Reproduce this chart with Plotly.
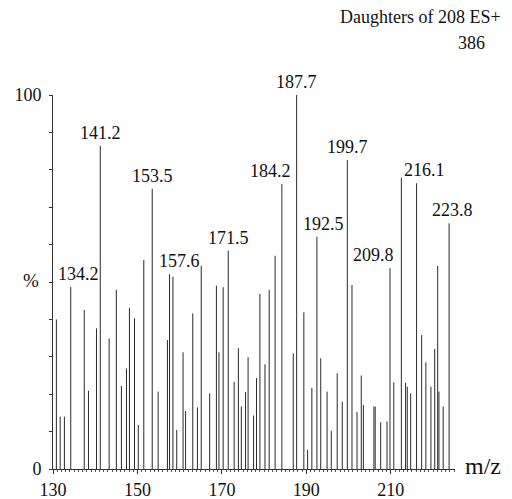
import plotly.graph_objects as go

# m/z positions and relative intensities (%)
mz = [130.8, 131.7, 132.7, 134.2, 137.4, 138.4, 140.3, 141.2, 143.3, 145.0,
      146.2, 147.4, 148.1, 149.3, 150.2, 151.5, 153.5, 154.9, 157.1, 157.6,
      158.4, 159.3, 160.8, 161.4, 163.1, 164.2, 165.1, 167.1, 168.7, 169.3,
      170.3, 171.5, 172.9, 173.9, 174.6, 175.6, 176.2, 177.5, 178.2, 179.0,
      180.2, 181.2, 182.6, 184.2, 186.9, 187.7, 189.4, 190.3, 191.3, 192.5,
      193.4, 194.9, 195.9, 197.3, 198.5, 199.7, 200.8, 202.0, 203.0, 203.5,
      206.0, 206.3, 207.6, 209.1, 209.8, 210.7, 212.5, 213.5, 213.9, 214.7,
      216.1, 217.3, 218.3, 219.5, 220.4, 221.1, 221.4, 222.4, 223.8]
intensity = [40.0, 14.0, 14.0, 48.7, 42.5, 20.9, 37.6, 86.4, 34.9, 47.9,
             22.2, 26.9, 43.1, 40.3, 11.8, 55.9, 74.9, 20.7, 34.5, 52.1,
             51.4, 10.4, 31.2, 15.5, 41.6, 16.5, 54.3, 20.2, 49.0, 31.2,
             48.6, 58.4, 23.3, 32.3, 16.7, 20.6, 29.9, 14.3, 24.3, 46.8,
             28.0, 47.9, 57.0, 76.2, 30.9, 100.0, 41.9, 5.1, 21.7, 62.1,
             29.6, 20.7, 10.2, 25.6, 18.0, 82.6, 49.2, 15.3, 25.0, 17.1,
             16.7, 16.7, 12.5, 12.7, 53.7, 23.2, 77.9, 23.1, 22.0, 20.2,
             76.4, 35.8, 28.5, 22.0, 32.1, 54.3, 20.7, 16.7, 65.7]

peak_labels = [134.2, 141.2, 153.5, 157.6, 171.5, 184.2, 187.7, 192.5,
               199.7, 209.8, 216.1, 223.8]

x_tick_vals = [130, 150, 170, 190, 210]
y_tick_vals = [0, 100]

title_lines = ["Daughters of 208 ES+", "386"]

# horizontal shift (px) of each peak label relative to its stick
label_shift = {134.2: 8, 157.6: 10, 184.2: -11, 192.5: 7, 209.8: -16,
               216.1: 8, 223.8: 3}

xs, ys = [], []
for m, h in zip(mz, intensity):
    xs += [m, m, None]
    ys += [0, h, None]

FONT = "Liberation Serif, Times New Roman, serif"
FS = 18
fig = go.Figure()
fig.add_trace(go.Scatter(x=xs, y=ys, mode="lines",
                         line=dict(color="#2a2a2a", width=1),
                         hoverinfo="skip", showlegend=False))

lookup = dict(zip(mz, intensity))
for lab in peak_labels:
    fig.add_annotation(x=lab, y=lookup[lab], xref="x", yref="y",
                       text=f"{lab:.1f}", showarrow=False,
                       xanchor="center", yanchor="bottom",
                       xshift=label_shift.get(lab, 0), yshift=1,
                       font=dict(family=FONT, size=FS, color="#111"))

# plot area: left 53, right 455, top 95, bottom 469 (page px)
fig.add_annotation(xref="paper", yref="paper", x=1, y=1, xanchor="right",
                   yanchor="middle", xshift=48, yshift=95 - 17,
                   text=title_lines[0], showarrow=False,
                   font=dict(family=FONT, size=FS, color="#111"))
fig.add_annotation(xref="paper", yref="paper", x=1, y=1, xanchor="right",
                   yanchor="middle", xshift=32, yshift=95 - 43,
                   text=title_lines[1], showarrow=False,
                   font=dict(family=FONT, size=FS, color="#111"))
fig.add_annotation(xref="paper", yref="paper", x=0, y=0.5, xanchor="center",
                   yanchor="middle", xshift=-22, yshift=(282 - 280),
                   text="%", showarrow=False,
                   font=dict(family=FONT, size=19, color="#111"))
fig.add_annotation(xref="paper", yref="paper", x=1, y=0, xanchor="left",
                   yanchor="middle", xshift=8, yshift=3,
                   text="m/z", showarrow=False,
                   font=dict(family=FONT, size=24, color="#111"))

fig.update_layout(
    width=512, height=499,
    margin=dict(l=53, r=57, t=95, b=30),
    paper_bgcolor="white", plot_bgcolor="white",
    xaxis=dict(range=[130, 225.2], showgrid=False, zeroline=False,
               automargin=False,
               showline=True, linecolor="#333", linewidth=1,
               tickvals=x_tick_vals, ticks="outside", ticklen=4,
               tickcolor="#333", ticklabelstandoff=0,
               tickfont=dict(family=FONT, size=FS, color="#111"),
               minor=dict(dtick=1, tick0=130, ticks="outside", ticklen=2,
                          tickcolor="#555")),
    yaxis=dict(range=[0, 100], showgrid=False, zeroline=False,
               automargin=False,
               showline=True, linecolor="#333", linewidth=1,
               tickvals=y_tick_vals, ticks="outside", ticklen=3,
               tickcolor="#333", ticklabelstandoff=4,
               tickfont=dict(family=FONT, size=FS, color="#111"),
               minor=dict(dtick=10, tick0=0, ticks="outside", ticklen=3,
                          tickcolor="#333")),
)

fig.write_html("out.html",
               config={"displayModeBar": False},
               post_script="document.body.style.margin='0';")
